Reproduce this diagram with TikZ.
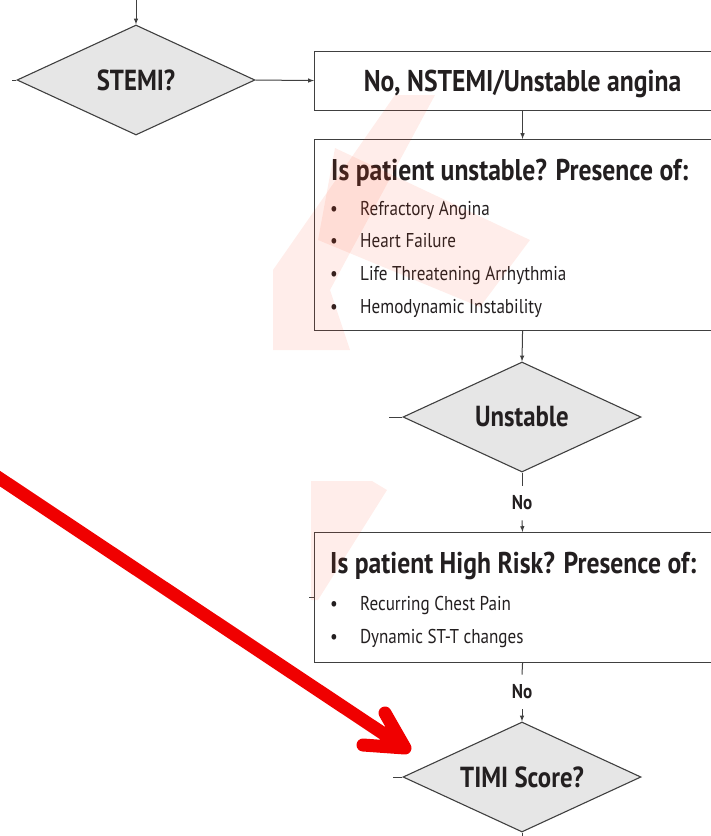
\documentclass[tikz,border=0pt]{standalone}
\usepackage{fontspec}
\setmainfont{PT Sans}[FakeStretch=0.855]
\usetikzlibrary{shapes.geometric,positioning}
\definecolor{ink}{RGB}{35,31,32}
\definecolor{boxline}{RGB}{64,64,64}
\definecolor{dfill}{RGB}{230,230,230}
\definecolor{wmark}{RGB}{255,60,20}
\definecolor{pointer}{RGB}{240,0,0}

\begin{document}
\begin{tikzpicture}[x=1pt,y=-1pt,
    decision/.style={diamond, draw=boxline, line width=1.1pt, fill=dfill, aspect=2.15,
        minimum width=238pt, minimum height=110pt, inner sep=0pt, text=ink,
        font=\fontsize{29}{30}\selectfont\bfseries},
    stage/.style={rectangle, draw=boxline, line width=1.1pt, anchor=north west,
        minimum width=416pt, inner sep=0pt, text=ink},
    heading/.style={anchor=base west, inner sep=0pt, text=ink,
        font=\fontsize{30}{32}\selectfont\bfseries},
    entry/.style={anchor=base west, inner sep=0pt, text=ink,
        font=\fontsize{20}{24}\selectfont},
    answer/.style={inner xsep=2pt, inner ysep=10pt, text=ink,
        font=\fontsize{20}{24}\selectfont\bfseries},
    flow/.style={-latex, boxline, line width=1pt}]
    \useasboundingbox (0,0) rectangle (711,836);

    % boxes and decisions
    \node[decision] (stemi) at (136,80) {STEMI?};
    \node[stage, minimum height=59pt, text depth=0pt,
        font=\fontsize{30}{32}\selectfont\bfseries] (nstemi) at (314,50.5) {No, NSTEMI/Unstable angina};
    \node[stage, minimum height=191pt] (unstbox) at (314,139) {};
    \node[heading] (unsttitle) at (331,180) {Is patient unstable? Presence of:};
    \foreach \txt [count=\i] in {Refractory Angina, Heart Failure, Life Threatening Arrhythmia, Hemodynamic Instability}
        \node[entry] (unstitem-\i) at (330,{182.3+32.7*\i}) {\makebox[30pt][l]{\textbullet}\txt};
    \node[decision] (unst) at (522,417) {Unstable};
    \node[answer] (no1) at (522,503) {No};
    \node[stage, minimum height=130pt] (hrisk) at (314,532) {};
    \node[heading] (hrisktitle) at (330,573) {Is patient High Risk? Presence of:};
    \foreach \txt [count=\i] in {Recurring Chest Pain, Dynamic ST-T changes}
        \node[entry] (hriskitem-\i) at (330,{577+33*\i}) {\makebox[30pt][l]{\textbullet}\txt};
    \node[answer] (no2) at (522,692) {No};
    \node[decision] (timi) at (522,777) {TIMI Score?};

    % connectors
    \coordinate (topin) at (136,-5);
    \coordinate (timiout) at (522,845);
    \draw[flow] (topin) -- (stemi.north);
    \draw[flow] (stemi.east) -- (nstemi.west);
    \draw[flow] (nstemi.south) -- (unstbox.north);
    \draw[flow] (unstbox.south) -- (unst.north);
    \draw[boxline, line width=1pt] (unst.south) -- (no1.north);
    \draw[flow] (no1.south) -- (hrisk.north);
    \draw[boxline, line width=1pt] (hrisk.south) -- (no2.north);
    \draw[flow] (no2.south) -- (timi.north);
    \draw[boxline, line width=1pt] (timi.south) -- (timiout);
    % cut-off branches on the left
    \draw[boxline, line width=1pt] (stemi.west) -- ++(-4,0);
    \draw[boxline, line width=1pt] (unst.west) -- ++(-13,0);
    \draw[boxline, line width=1pt] (hrisk.west) -- ++(-5,0);
    \draw[boxline, line width=1pt] (timi.west) -- ++(-9,0);

    % faint watermark
    \fill[wmark, opacity=0.09] (273,350) -- (273,270) -- (395,95) -- (435,95) -- (330,290) -- (350,350) -- cycle;
    \fill[wmark, opacity=0.09] (335,148) -- (530,240) -- (480,307) -- (318,240) -- cycle;
    \fill[wmark, opacity=0.09] (311,481) -- (372,481) -- (387,490) -- (318,600) -- (311,600) -- cycle;

    % red pointer
    \coordinate (ptrstart) at (-10,472);
    \coordinate (ptrtip) at (405,748);
    \draw[pointer, line width=13pt, line cap=round, line join=round]
        (ptrstart) -- (ptrtip) (385,713) -- (ptrtip) -- (363,745);
\end{tikzpicture}
\end{document}
